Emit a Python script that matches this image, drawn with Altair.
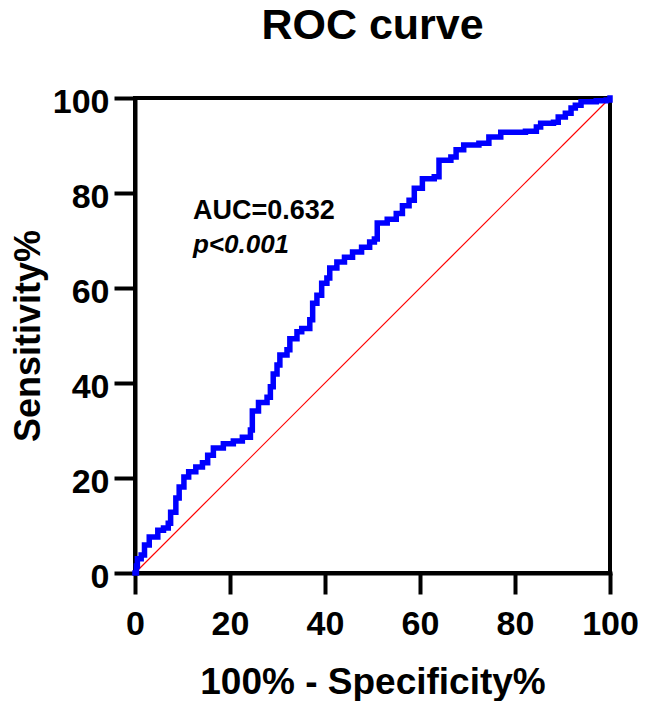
import altair as alt
import pandas as pd

# ROC curve (100% - Specificity%, Sensitivity%)
fpr = [0, 0.3, 0.5, 1.3, 2.0, 3.0, 4.8, 6.0, 7.0, 7.5,
       8.6, 9.3, 10.3, 11.3, 12.8, 14.2, 15.3, 16.5, 18.6, 20.7,
       22.6, 24.3, 24.7, 26.0, 27.8, 28.5, 29.1, 29.9, 30.5, 32.0,
       32.6, 34.1, 35.1, 36.8, 37.4, 38.3, 39.3, 40.4, 41.0, 42.5,
       44.1, 45.8, 47.7, 49.4, 50.4, 51.0, 53.1, 55.0, 56.3, 57.7,
       58.8, 60.5, 63.0, 64.0, 66.5, 67.6, 69.2, 72.4, 74.5, 77.0,
       82.2, 84.5, 85.4, 88.1, 89.1, 90.6, 91.8, 92.7, 93.9, 97.1,
       99.2, 100]
tpr = [0, 1.5, 3, 3.8, 5.9, 7.6, 9, 9.5, 10.5, 12.8,
       15.8, 18.1, 20.2, 21.3, 22.3, 23.2, 24.8, 26.3, 27.2, 27.8,
       28.6, 30.1, 34.1, 35.9, 37.0, 39.2, 41.9, 43.8, 45.9, 47.0,
       49.3, 50.8, 51.5, 53.3, 56.8, 58.5, 61.0, 62.1, 64.2, 65.5,
       66.5, 67.6, 68.6, 69.7, 70.3, 73.7, 74.5, 75.7, 77.3, 78.5,
       81.0, 83.0, 83.4, 86.9, 87.6, 89.1, 90.1, 90.5, 91.8, 92.8,
       93.0, 93.9, 94.7, 94.9, 96.0, 96.8, 97.9, 98.5, 99.2, 99.4,
       99.6, 100]

# reference diagonal
diag_x = [0, 100]
diag_y = [0, 100]

ticks = [0, 20, 40, 60, 80, 100]

chart_title = "ROC curve"
x_title = "100% - Specificity%"
y_title = "Sensitivity%"

auc_text = ["AUC=0.632"]
auc_x = [12.2]
auc_y = [74.5]
p_text = ["p<0.001"]
p_x = [12.2]
p_y = [67.4]

FONT = "Liberation Sans"

roc_df = pd.DataFrame({"i": list(range(len(fpr))), "fpr": fpr, "tpr": tpr})
diag_df = pd.DataFrame({"fpr": diag_x, "tpr": diag_y})
auc_df = pd.DataFrame({"fpr": auc_x, "tpr": auc_y, "t": auc_text})
p_df = pd.DataFrame({"fpr": p_x, "tpr": p_y, "t": p_text})

xs = alt.Scale(domain=[0, 100], nice=False, zero=False)
ys = alt.Scale(domain=[0, 100], nice=False, zero=False)

x_axis = alt.Axis(values=ticks, title=x_title, grid=False, labelFlush=False,
                  tickSize=21, labelPadding=40, labelBaseline="alphabetic",
                  labelFontSize=34, titleFontSize=37,
                  titleBaseline="alphabetic", titleY=120, titleAlign="center")
y_axis = alt.Axis(values=ticks, title=y_title, grid=False, labelFlush=False,
                  tickSize=21, labelPadding=5, labelBaseline="alphabetic",
                  labelOffset=14, labelFontSize=34, titleFontSize=36,
                  titleBaseline="alphabetic", titleX=-96, titleAlign="center")

X = alt.X("fpr:Q", scale=xs, axis=x_axis)
Y = alt.Y("tpr:Q", scale=ys, axis=y_axis)

diag = alt.Chart(diag_df).mark_line(color="#ff0000", strokeWidth=1.2).encode(x=X, y=Y)

roc = alt.Chart(roc_df).mark_line(color="#0000ff", strokeWidth=5.5,
                                  interpolate="step-after",
                                  strokeJoin="miter", strokeCap="square").encode(
    x=X, y=Y, order=alt.Order("i:Q"))

auc = alt.Chart(auc_df).mark_text(align="left", baseline="alphabetic",
                                  font=FONT, fontSize=27, fontWeight="bold",
                                  color="black").encode(x=X, y=Y, text="t:N")
pval = alt.Chart(p_df).mark_text(align="left", baseline="alphabetic",
                                 font=FONT, fontSize=26, fontWeight="bold",
                                 fontStyle="italic", color="black").encode(x=X, y=Y, text="t:N")

chart = alt.layer(diag, roc, auc, pval).properties(
    width=475, height=475,
    autosize=alt.AutoSizeParams(type="none"),
    padding={"left": 127, "top": 90, "right": 28, "bottom": 128},
    title=alt.TitleParams(chart_title, font=FONT, fontSize=43, fontWeight="bold",
                          color="black", anchor="middle", baseline="alphabetic",
                          offset=3),
).configure_view(
    stroke="black", strokeWidth=4
).configure_axis(
    domainColor="black", domainWidth=4, tickColor="black", tickWidth=4,
    labelFont=FONT, labelFontWeight="bold", labelColor="black",
    titleFont=FONT, titleFontWeight="bold", titleColor="black",
    domainCap="square", tickCap="butt"
)

chart.save("out.html", embed_options={"renderer": "svg", "actions": False})
